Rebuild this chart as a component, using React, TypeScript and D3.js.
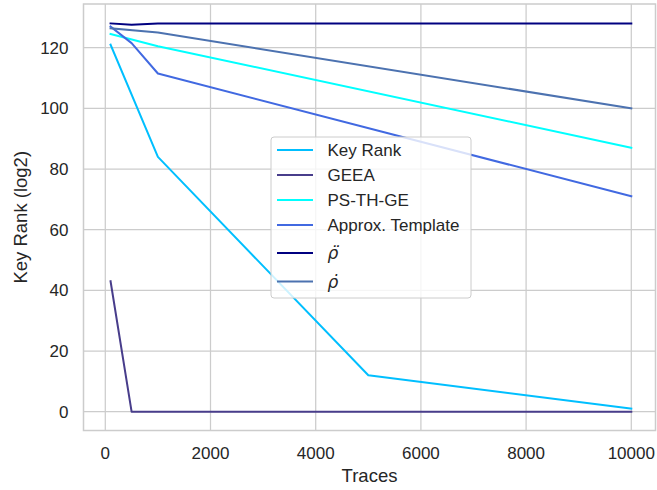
import React from "react";
import * as d3 from "d3";

// Key-rank evolution over number of traces for several attack variants
const keyRankTraces = [100, 1000, 5000, 10000];
const keyRank = [121, 84, 12, 1];

const geeaTraces = [100, 500, 10000];
const geea = [43, 0, 0];

const psThGeTraces = [100, 1000, 10000];
const psThGe = [124.5, 120.5, 87];

const approxTemplateTraces = [100, 500, 1000, 10000];
const approxTemplate = [127, 121.5, 111.5, 71];

const rhoDDotTraces = [100, 500, 1000, 10000];
const rhoDDot = [128, 127.6, 128, 128];

const rhoDotTraces = [100, 1000, 10000];
const rhoDot = [126.4, 125, 100];

const seriesNames = ["Key Rank", "GEEA", "PS-TH-GE", "Approx. Template", "ρ̈", "ρ̇"];
const seriesColors = ["#00BFFF", "#483D8B", "#00FFFF", "#4169E1", "#000080", "#4C72B0"];
const seriesTraces = [keyRankTraces, geeaTraces, psThGeTraces, approxTemplateTraces, rhoDDotTraces, rhoDotTraces];
const seriesValues = [keyRank, geea, psThGe, approxTemplate, rhoDDot, rhoDot];

const xTicks = [0, 2000, 4000, 6000, 8000, 10000];
const yTicks = [0, 20, 40, 60, 80, 100, 120];

const W = 657;
const H = 490;
const frame = { left: 83.5, right: 655.5, top: 4, bottom: 430.5 };
const FONT = "'Liberation Sans', Arial, sans-serif";
const TEXT = "#262626";
const GRID = "#cccccc";

export default function App() {
  const x = d3.scaleLinear().domain([0, 10000]).range([105.3, 631.3]);
  const y = d3.scaleLinear().domain([0, 120]).range([411.7, 47.7]);

  const line = d3
    .line<[number, number]>()
    .x((d) => x(d[0]))
    .y((d) => y(d[1]));

  const legendRowY = [150, 175, 200, 225, 253, 281.5];

  return (
    <svg width={W} height={H} style={{ position: "absolute", left: 0, top: 0, background: "#fff" }}>
      <rect x={0} y={0} width={W} height={H} fill="#fff" />
      {/* grid */}
      {xTicks.map((t) => (
        <line key={"gx" + t} x1={x(t)} x2={x(t)} y1={frame.top} y2={frame.bottom} stroke={GRID} strokeWidth={1.25} />
      ))}
      {yTicks.map((t) => (
        <line key={"gy" + t} x1={frame.left} x2={frame.right} y1={y(t)} y2={y(t)} stroke={GRID} strokeWidth={1.25} />
      ))}
      {/* frame */}
      <rect
        x={frame.left}
        y={frame.top}
        width={frame.right - frame.left}
        height={frame.bottom - frame.top}
        fill="none"
        stroke={GRID}
        strokeWidth={1.5}
      />
      {/* series */}
      {seriesValues.map((vals, i) => (
        <path
          key={seriesNames[i]}
          d={line(seriesTraces[i].map((t, j) => [t, vals[j]] as [number, number])) || ""}
          fill="none"
          stroke={seriesColors[i]}
          strokeWidth={2}
          strokeLinejoin="round"
          strokeLinecap="square"
        />
      ))}
      {/* tick labels */}
      {xTicks.map((t) => (
        <text key={"tx" + t} x={x(t)} y={459} textAnchor="middle" fontFamily={FONT} fontSize={17} fill={TEXT}>
          {t}
        </text>
      ))}
      {yTicks.map((t) => (
        <text key={"ty" + t} x={68.5} y={y(t) + 6} textAnchor="end" fontFamily={FONT} fontSize={17} fill={TEXT}>
          {t}
        </text>
      ))}
      {/* axis labels */}
      <text x={(frame.left + frame.right) / 2} y={481.5} textAnchor="middle" fontFamily={FONT} fontSize={18.5} fill={TEXT}>
        Traces
      </text>
      <text
        transform={`translate(27,${(frame.top + frame.bottom) / 2}) rotate(-90)`}
        textAnchor="middle"
        fontFamily={FONT}
        fontSize={18.5}
        fill={TEXT}
      >
        Key Rank (log2)
      </text>
      {/* legend */}
      <rect x={271} y={137} width={200} height={161} rx={3} fill="#fff" fillOpacity={0.8} stroke={GRID} strokeWidth={1} />
      {seriesNames.map((name, i) => (
        <g key={"lg" + name}>
          <line x1={277} x2={313} y1={legendRowY[i]} y2={legendRowY[i]} stroke={seriesColors[i]} strokeWidth={2} />
          <text
            x={327.5}
            y={legendRowY[i] + 6}
            fontFamily={i >= 4 ? "'DejaVu Sans', sans-serif" : FONT}
            fontStyle={i >= 4 ? "italic" : "normal"}
            fontSize={17}
            fill={TEXT}
          >
            {name}
          </text>
        </g>
      ))}
    </svg>
  );
}
